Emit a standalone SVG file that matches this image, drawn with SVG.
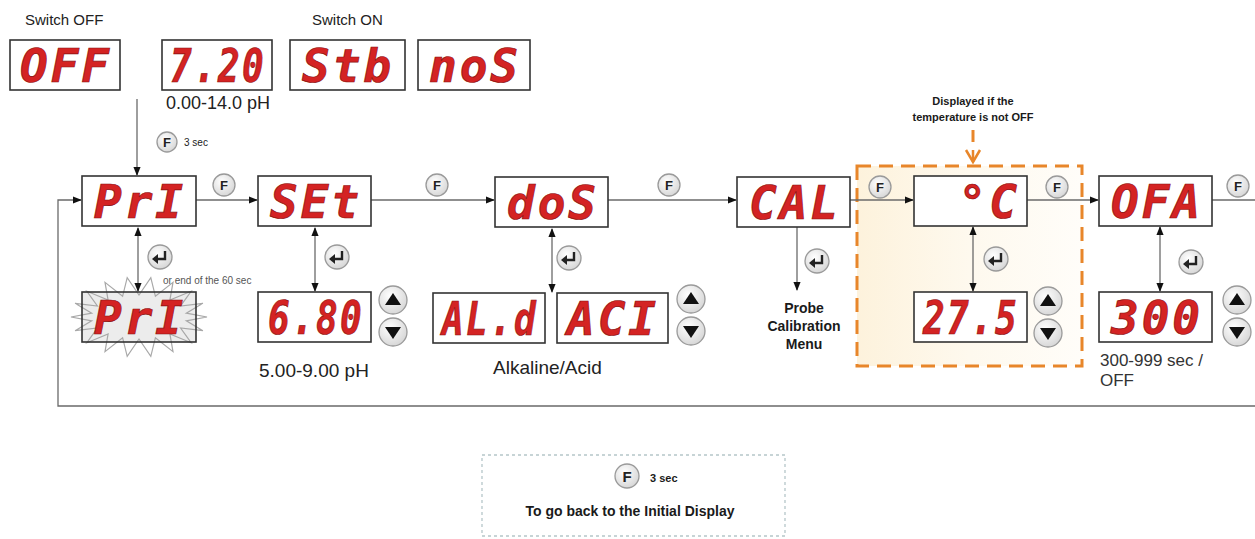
<svg xmlns="http://www.w3.org/2000/svg" width="1255" height="539" viewBox="0 0 1255 539">
<style>
.lbl{font-family:"Liberation Sans",Arial,sans-serif;fill:#222}
.lblb{font-family:"Liberation Sans",Arial,sans-serif;font-weight:bold;fill:#1a1a1a}
.box{fill:#fff;stroke:#333;stroke-width:1.6}
.seg{font-family:"DejaVu Sans Mono",monospace;font-weight:bold;font-style:oblique;font-size:46px;fill:#d42323;stroke:#8a0f0f;stroke-width:0.7;text-anchor:middle;letter-spacing:3px}
.btn{fill:url(#bg);stroke:#9a9a9a;stroke-width:1.3}
.bf{font-family:"Liberation Sans",Arial,sans-serif;font-weight:bold;font-size:13px;fill:#222;text-anchor:middle}
.con{fill:none;stroke:#6a6a6a;stroke-width:1.3}
</style>
<defs>
<radialGradient id="bg" cx="0.4" cy="0.35" r="0.7"><stop offset="0" stop-color="#ffffff"/><stop offset="1" stop-color="#d5d5d5"/></radialGradient>
<linearGradient id="og" x1="0" y1="0" x2="1" y2="0"><stop offset="0" stop-color="#fdf2dc"/><stop offset="0.5" stop-color="#fef9ee"/><stop offset="1" stop-color="#fffdf9"/></linearGradient>
<marker id="ah" viewBox="0 0 10 10" refX="9" refY="5" markerWidth="7" markerHeight="7" orient="auto-start-reverse"><path d="M0,1 L10,5 L0,9 Z" fill="#111"/></marker>
<g id="ent"><circle r="12" class="btn"/><path d="M5,-6 V2 H-3" fill="none" stroke="#222" stroke-width="2.4"/><path d="M-8,2 L-2,-3 L-2,7 Z" fill="#222"/></g>
<g id="ud"><circle r="14" class="btn"/><path d="M-8,5 L8,5 L0,-7 Z" fill="#111"/><circle cy="32" r="14" class="btn"/><path d="M-8,27 L8,27 L0,39 Z" fill="#111"/></g>
</defs>
<rect width="1255" height="539" fill="#fff"/>

<!-- orange conditional area -->
<g id="tempArea">
<rect x="857" y="166" width="225" height="200" fill="url(#og)" stroke="#e8862a" stroke-width="3" stroke-dasharray="14 8"/>
<text class="lblb" x="973" y="105" font-size="11" text-anchor="middle">Displayed if the</text>
<text class="lblb" x="973" y="121" font-size="11" text-anchor="middle">temperature is not OFF</text>
</g>

<g id="connectors">
<line class="con" x1="137" y1="99" x2="137" y2="175" marker-end="url(#ah)"/>
<line class="con" x1="196" y1="200" x2="257" y2="200" marker-end="url(#ah)"/>
<line class="con" x1="371" y1="200" x2="494" y2="200" marker-end="url(#ah)"/>
<line class="con" x1="608" y1="200" x2="736" y2="200" marker-end="url(#ah)"/>
<line class="con" x1="850" y1="200" x2="913" y2="200" marker-end="url(#ah)"/>
<line class="con" x1="1027" y1="200" x2="1098" y2="200" marker-end="url(#ah)"/>
<line class="con" x1="1212" y1="200" x2="1255" y2="200"/>
<polyline class="con" stroke="#8a8a8a" stroke-width="1.6" points="1255,406 58,406 58,200 81,200" marker-end="url(#ah)"/>
<line class="con" x1="138" y1="228" x2="138" y2="291" marker-start="url(#ah)" marker-end="url(#ah)"/>
<line class="con" x1="315" y1="228" x2="315" y2="291" marker-start="url(#ah)" marker-end="url(#ah)"/>
<line class="con" x1="552" y1="229" x2="552" y2="292" marker-start="url(#ah)" marker-end="url(#ah)"/>
<line class="con" x1="797" y1="227" x2="797" y2="290" marker-end="url(#ah)"/>
<line class="con" x1="973" y1="227" x2="973" y2="291" marker-start="url(#ah)" marker-end="url(#ah)"/>
<line class="con" x1="1160" y1="227" x2="1160" y2="291" marker-start="url(#ah)" marker-end="url(#ah)"/>
<line x1="973" y1="130" x2="973" y2="142" stroke="#e8862a" stroke-width="3"/>
<path d="M966,150 L973,162 L980,150" fill="none" stroke="#e8862a" stroke-width="2.5"/>
<line x1="973" y1="150" x2="973" y2="162" stroke="#e8862a" stroke-width="2.5"/>
</g>

<!-- top labels and displays -->
<text class="lbl" x="25" y="25" font-size="15">Switch OFF</text>
<text class="lbl" x="312" y="25" font-size="15">Switch ON</text>
<g id="dOFF"><rect class="box" x="10" y="40" width="110" height="50"/><text class="seg" x="66" y="82">OFF</text></g>
<g id="d720"><rect class="box" x="162" y="40" width="110" height="50"/><text class="seg" x="218" y="82" textLength="96" lengthAdjust="spacingAndGlyphs">7.20</text></g>
<g id="dStb"><rect class="box" x="290" y="40" width="115" height="50"/><text class="seg" x="348" y="82">Stb</text></g>
<g id="dnoS"><rect class="box" x="418" y="40" width="112" height="50"/><text class="seg" x="475" y="82">noS</text></g>
<text class="lbl" x="166" y="109" font-size="18">0.00-14.0 pH</text>
<g id="f3"><circle cx="167" cy="142" r="10" class="btn"/><text class="bf" x="167" y="147">F</text><text class="lbl" x="184" y="146" font-size="10">3 sec</text></g>

<!-- main row -->
<g id="nPri"><rect class="box" x="82" y="176" width="114" height="50"/><text class="seg" x="140" y="218">PrI</text></g>
<g id="nSEt"><rect class="box" x="258" y="176" width="113" height="50"/><text class="seg" x="316" y="218">SEt</text></g>
<g id="ndoS"><rect class="box" x="495" y="177" width="113" height="50"/><text class="seg" x="553" y="219">doS</text></g>
<g id="nCAL"><rect class="box" x="737" y="177" width="113" height="50"/><text class="seg" x="795" y="219">CAL</text></g>
<g id="nC"><rect class="box" x="914" y="176" width="113" height="50"/><text class="seg" x="1020" y="218" style="text-anchor:end">°C</text></g>
<g id="nOFA"><rect class="box" x="1099" y="176" width="113" height="50"/><text class="seg" x="1157" y="218">OFA</text></g>

<g id="fbtns">
<circle cx="224" cy="185" r="11" class="btn"/><text class="bf" x="224" y="190">F</text>
<circle cx="437" cy="185" r="11" class="btn"/><text class="bf" x="437" y="190">F</text>
<circle cx="669" cy="185" r="11" class="btn"/><text class="bf" x="669" y="190">F</text>
<circle cx="880" cy="187" r="11" class="btn"/><text class="bf" x="880" y="192">F</text>
<circle cx="1057" cy="187" r="11" class="btn"/><text class="bf" x="1057" y="192">F</text>
<circle cx="1238" cy="186" r="11" class="btn"/><text class="bf" x="1238" y="191">F</text>
</g>
<g id="enters">
<use href="#ent" x="160" y="257"/>
<use href="#ent" x="337" y="257"/>
<use href="#ent" x="569" y="258"/>
<use href="#ent" x="817" y="261"/>
<use href="#ent" x="996" y="259"/>
<use href="#ent" x="1191" y="262"/>
</g>

<!-- lower row -->
<g id="nPriBlink">
<rect x="82" y="292" width="114" height="50" fill="#ececec"/>
<polygon fill="none" stroke="#a8a8a8" stroke-width="1.2" points="207,317 186.3,320.8 202.9,330.7 180.6,328 191.1,342.7 169.9,333.9 173,351.6 155.4,337.7 150.8,356.4 139,339 127.2,356.4 122.6,337.7 105,351.6 108.1,333.9 86.9,342.7 97.4,328 75.1,330.7 91.7,320.8 71,317 91.7,313.2 75.1,303.3 97.4,306 86.9,291.3 108.1,300.1 105,282.4 122.6,296.3 127.2,277.6 139,295 150.8,277.6 155.4,296.3 173,282.4 169.9,300.1 191.1,291.3 180.6,306 202.9,303.3 186.3,313.2"/>
<rect x="82" y="292" width="114" height="50" fill="none" stroke="#333" stroke-width="1.6"/>
<text class="seg" x="140" y="334">PrI</text>
</g>
<text class="lbl" x="163" y="284" font-size="10" style="fill:#555">or end of the 60 sec</text>

<g id="n680"><rect class="box" x="258" y="292" width="113" height="50"/><text class="seg" x="316" y="334" textLength="96" lengthAdjust="spacingAndGlyphs">6.80</text></g>
<use href="#ud" x="393" y="300"/>
<text class="lbl" x="259" y="377" font-size="19">5.00-9.00 pH</text>

<g id="nALd"><rect class="box" x="433" y="293" width="112" height="50"/><text class="seg" x="490" y="335" textLength="96" lengthAdjust="spacingAndGlyphs">AL.d</text></g>
<g id="nACI"><rect class="box" x="557" y="293" width="111" height="50"/><text class="seg" x="613" y="335">ACI</text></g>
<use href="#ud" x="691" y="299"/>
<text class="lbl" x="493" y="374" font-size="19">Alkaline/Acid</text>

<g id="probe">
<text class="lblb" x="804" y="313" font-size="14" text-anchor="middle">Probe</text>
<text class="lblb" x="804" y="331" font-size="14" text-anchor="middle">Calibration</text>
<text class="lblb" x="804" y="349" font-size="14" text-anchor="middle">Menu</text>
</g>

<g id="n275"><rect class="box" x="914" y="292" width="113" height="50"/><text class="seg" x="971" y="334" textLength="96" lengthAdjust="spacingAndGlyphs">27.5</text></g>
<use href="#ud" x="1048" y="301"/>

<g id="n300"><rect class="box" x="1099" y="292" width="113" height="50"/><text class="seg" x="1157" y="334">300</text></g>
<use href="#ud" x="1237" y="300"/>
<text class="lbl" x="1100" y="366" font-size="17" style="fill:#333">300-999 sec /</text>
<text class="lbl" x="1100" y="386" font-size="17" style="fill:#333">OFF</text>

<!-- bottom note -->
<g id="note">
<rect x="482" y="455" width="303" height="81" fill="#fff" stroke="#b5c6c9" stroke-width="1.3" stroke-dasharray="3 3"/>
<circle cx="627" cy="476" r="12" class="btn"/><text class="bf" x="627" y="482" style="font-size:15px">F</text>
<text class="lblb" x="650" y="482" font-size="11">3 sec</text>
<text class="lblb" x="630" y="516" font-size="14" text-anchor="middle">To go back to the Initial Display</text>
</g>
</svg>
